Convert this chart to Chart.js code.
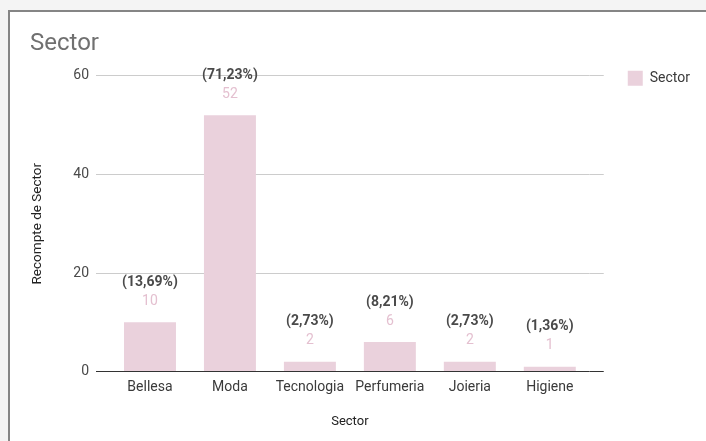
<!DOCTYPE html>
<html lang="ca">
<head>
  <meta charset="UTF-8">
  <title>Sector</title>
  <script src="https://cdn.jsdelivr.net/npm/chart.js"></script>
  <style>
    body {
      margin: 0;
      background: #f4f4f4;
      overflow: hidden;
      font-family: Roboto, sans-serif;
    }

    .marc {
      position: absolute;
      left: 8px;
      top: 10px;
      width: 700px;
      height: 435px;
      background: #fff;
      border-left: 2px solid #858585;
      border-top: 2px solid #858585;
    }

    canvas {
      position: absolute;
      left: 0;
      top: 0;
    }
  </style>
</head>
<body>

  <div class="marc"></div>
  <canvas id="grafic" width="706" height="441"></canvas>

  <script>
    const sectors = ['Bellesa', 'Moda', 'Tecnologia', 'Perfumeria', 'Joieria', 'Higiene'];
    const recompte = [10, 52, 2, 6, 2, 1];
    const marquesY = [0, 20, 40, 60];

    Chart.defaults.font.family = 'Roboto';

    // línia de zero més fosca que la resta de la graella
    const colorGraella = ctx => (ctx.tick && ctx.tick.value === 0) ? '#333' : '#ccc';

    // etiquetes damunt de cada barra: recompte i percentatge (truncat a 2 decimals)
    const etiquetes = {
      id: 'etiquetes',
      afterDatasetsDraw(chart) {
        const ctx = chart.ctx;
        const valors = chart.data.datasets[0].data;
        const total = valors.reduce((a, b) => a + b, 0);
        chart.getDatasetMeta(0).data.forEach((barra, i) => {
          const pct = Math.floor(valors[i] / total * 10000) / 100;
          ctx.save();
          ctx.textAlign = 'center';
          ctx.textBaseline = 'middle';
          ctx.font = '14px Roboto';
          ctx.fillStyle = '#e4c0d0';
          ctx.fillText(String(valors[i]), barra.x, barra.y - 21);
          ctx.font = 'bold 14px Roboto';
          ctx.fillStyle = '#4a4a4a';
          ctx.fillText('(' + pct.toFixed(2).replace('.', ',') + '%)', barra.x, barra.y - 40);
          ctx.restore();
        });
      }
    };

    // puja la llegenda a l'alçada de la primera línia de la graella
    const llegendaAmunt = {
      id: 'llegendaAmunt',
      afterLayout(chart) {
        chart.legend.top = chart.chartArea.top - 15;
      }
    };

    new Chart(document.getElementById('grafic'), {
      type: 'bar',
      data: {
        labels: sectors,
        datasets: [{
          label: 'Sector',
          data: recompte,
          backgroundColor: '#ead1dc',
          borderWidth: 0,
          categoryPercentage: 0.65,
          barPercentage: 1
        }]
      },
      options: {
        responsive: false,
        animation: false,
        layout: {
          padding: { left: 30, top: 30, right: 6, bottom: 7 }
        },
        scales: {
          x: {
            grid: { display: false, drawTicks: false },
            border: { display: false },
            ticks: {
              color: '#3a3a3a',
              font: { size: 14 },
              padding: 7,
              maxRotation: 0,
              autoSkip: false
            },
            title: {
              display: true,
              text: 'Sector',
              color: '#222',
              font: { size: 13 },
              padding: { top: 12, bottom: 4 }
            }
          },
          y: {
            min: 0,
            max: 60,
            afterBuildTicks: scale => { scale.ticks = marquesY.map(v => ({ value: v })); },
            afterFit: scale => { scale.width = 80; },
            grid: { color: colorGraella, tickLength: 14 },
            border: { display: false },
            ticks: { color: '#4a4a4a', font: { size: 14 }, padding: 7 },
            title: {
              display: true,
              text: 'Recompte de Sector',
              color: '#222',
              font: { size: 13.5 },
              padding: { top: 0, bottom: 0 }
            }
          },
          y2: {
            position: 'right',
            min: 0,
            max: 60,
            afterBuildTicks: scale => { scale.ticks = marquesY.map(v => ({ value: v })); },
            afterFit: scale => { scale.width = 28; },
            grid: { color: colorGraella, tickLength: 14, drawOnChartArea: false },
            border: { display: false },
            ticks: { display: false }
          }
        },
        plugins: {
          title: {
            display: true,
            text: 'Sector',
            align: 'start',
            color: '#707070',
            font: { size: 24, weight: 'normal' },
            padding: { top: 0, bottom: 17 }
          },
          legend: {
            position: 'right',
            align: 'start',
            labels: {
              color: '#3a3a3a',
              font: { size: 14 },
              boxWidth: 15,
              boxHeight: 15,
              padding: 10
            }
          },
          tooltip: { enabled: false }
        }
      },
      plugins: [etiquetes, llegendaAmunt]
    });
  </script>

</body>
</html>
